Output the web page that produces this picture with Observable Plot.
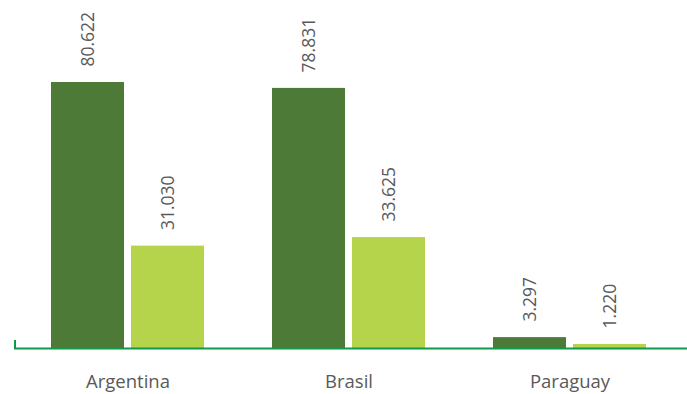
<!DOCTYPE html>
<html>
<head>
<meta charset="utf-8">
<script src="https://cdn.jsdelivr.net/npm/d3@7"></script>
<script src="https://cdn.jsdelivr.net/npm/@observablehq/plot@0.6"></script>
<style>
  html, body { margin: 0; padding: 0; background: #fff; }
  #chart svg { display: block; }
</style>
</head>
<body>
<div id="chart"></div>
<script>
const categorias = ["Argentina", "Brasil", "Paraguay"];
const serie1 = [80622, 78831, 3297];
const serie2 = [31030, 33625, 1220];

const colorOscuro = "#4e7a37";
const colorClaro = "#b5d44b";
const colorEje = "#0f9a4a";
const colorTexto = "#595959";

const loc = d3.formatLocale({decimal: ",", thousands: ".", grouping: [3], currency: ["", ""]});
const fmt = loc.format(",d");

const idx = d3.range(categorias.length);
const font = "'Open Sans', sans-serif";

const plot = Plot.plot({
  width: 687,
  height: 394,
  marginTop: 0,
  marginBottom: 46,
  marginLeft: 14,
  marginRight: 0,
  style: {fontFamily: font, background: "#fff"},
  x: {domain: categorias, range: [17, 680], padding: 0},
  y: {domain: [0, 105475], axis: null},
  marks: [
    Plot.barY(idx, {x: i => categorias[i], y: i => serie1[i], fill: colorOscuro, insetLeft: 74, insetRight: 74, dx: -40}),
    Plot.barY(idx, {x: i => categorias[i], y: i => serie2[i], fill: colorClaro, insetLeft: 74, insetRight: 74, dx: 40}),
    Plot.text(idx, {x: i => categorias[i], y: i => serie1[i], text: i => fmt(serie1[i]), rotate: -90, textAnchor: "start", lineAnchor: "middle", dx: -40, dy: -16, fontSize: 17.5, fill: colorTexto}),
    Plot.text(idx, {x: i => categorias[i], y: i => serie2[i], text: i => fmt(serie2[i]), rotate: -90, textAnchor: "start", lineAnchor: "middle", dx: 40, dy: -16, fontSize: 17.5, fill: colorTexto}),
    Plot.ruleY([0], {stroke: colorEje, strokeWidth: 2}),
    Plot.axisX({tickSize: 0, tickPadding: 26, fontSize: 18.5, color: colorTexto, label: null})
  ]
});

const y0 = plot.scale("y").apply(0);
d3.select(plot).append("line")
  .attr("x1", 15).attr("x2", 15)
  .attr("y1", y0 - 8).attr("y2", y0)
  .attr("stroke", colorEje).attr("stroke-width", 2);

document.getElementById("chart").appendChild(plot);
</script>
</body>
</html>
